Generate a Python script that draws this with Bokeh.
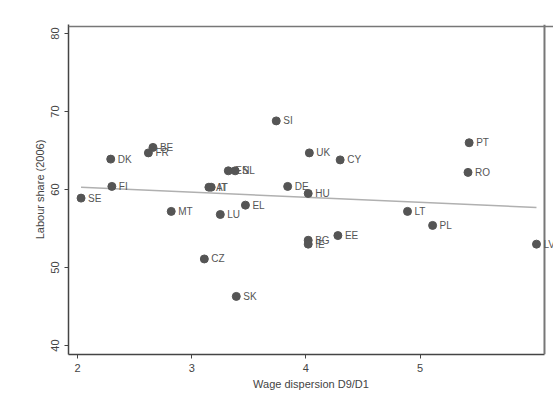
from bokeh.plotting import figure
from bokeh.models import ColumnDataSource, Range1d, FixedTicker, LabelSet, Span
from bokeh.embed import file_html
from bokeh.resources import INLINE
from bokeh.core.properties import value

# country codes, wage dispersion (D9/D1) and labour share (2006)
countries = ["SE", "DK", "FI", "BE", "FR", "MT", "AT", "IT", "ES", "NL",
             "LU", "EL", "CZ", "SK", "SI", "UK", "CY", "DE", "HU", "BG",
             "IE", "EE", "LT", "PL", "PT", "RO", "LV"]
wage_disp = [2.03, 2.29, 2.30, 2.66, 2.62, 2.82, 3.15, 3.17, 3.32, 3.38,
             3.25, 3.47, 3.11, 3.39, 3.74, 4.03, 4.30, 3.84, 4.02, 4.02,
             4.02, 4.28, 4.89, 5.11, 5.43, 5.42, 6.02]
labour_share = [58.9, 63.9, 60.4, 65.4, 64.7, 57.2, 60.3, 60.3, 62.4, 62.4,
                56.8, 58.0, 51.1, 46.3, 68.8, 64.7, 63.8, 60.4, 59.5, 53.5,
                53.0, 54.1, 57.2, 55.4, 66.0, 62.2, 53.0]

# fitted line (end points)
fit_x = [2.03, 6.02]
fit_y = [60.3, 57.7]

# plot region box (the LV label is allowed to spill past its right side)
box_x = (1.92, 6.09)
box_y = (38.85, 80.9)

source = ColumnDataSource(dict(x=wage_disp, y=labour_share, label=countries))

p = figure(width=553, height=403, output_backend="svg", toolbar_location=None,
           x_range=Range1d(box_x[0], 6.169), y_range=Range1d(box_y[0], 81.16),
           min_border_left=68, min_border_right=0, min_border_top=24,
           min_border_bottom=49, background_fill_color="white",
           border_fill_color="white")

# top and right sides of the box
p.add_layout(Span(location=box_x[1], dimension="height", line_color="#777777",
                  line_width=2))
p.add_layout(Span(location=box_y[1], dimension="width", line_color="#777777",
                  line_width=1.5))

p.line(fit_x, fit_y, color="#b0b0b0", line_width=1.5)
p.scatter("x", "y", source=source, size=8, color="#555555")
labels = LabelSet(x="x", y="y", text="label", source=source, x_offset=7,
                  text_baseline="middle", text_font=value("Liberation Sans"),
                  text_font_size=value("10px"), text_color="#555555")
p.add_layout(labels)

p.grid.visible = False
p.outline_line_color = None

p.xaxis.ticker = FixedTicker(ticks=[2, 3, 4, 5])
p.xaxis.bounds = box_x
p.yaxis.ticker = FixedTicker(ticks=[40, 50, 60, 70, 80])
p.yaxis.major_label_orientation = "vertical"
p.xaxis.axis_label = "Wage dispersion D9/D1"
p.yaxis.axis_label = "Labour share (2006)"
for ax in (p.xaxis, p.yaxis):
    ax.axis_line_color = "#444444"
    ax.axis_line_width = 1.5
    ax.major_tick_line_color = "#444444"
    ax.major_tick_out = 4
    ax.major_tick_in = 0
    ax.minor_tick_line_color = None
    ax.major_label_text_font = "Liberation Sans"
    ax.major_label_text_font_size = "11px"
    ax.major_label_text_color = "#444444"
    ax.axis_label_text_font = "Liberation Sans"
    ax.axis_label_text_font_size = "11px"
    ax.axis_label_text_font_style = "normal"
    ax.axis_label_text_color = "#444444"
    ax.axis_label_standoff = 3

open("out.html", "w").write(file_html(p, INLINE))
